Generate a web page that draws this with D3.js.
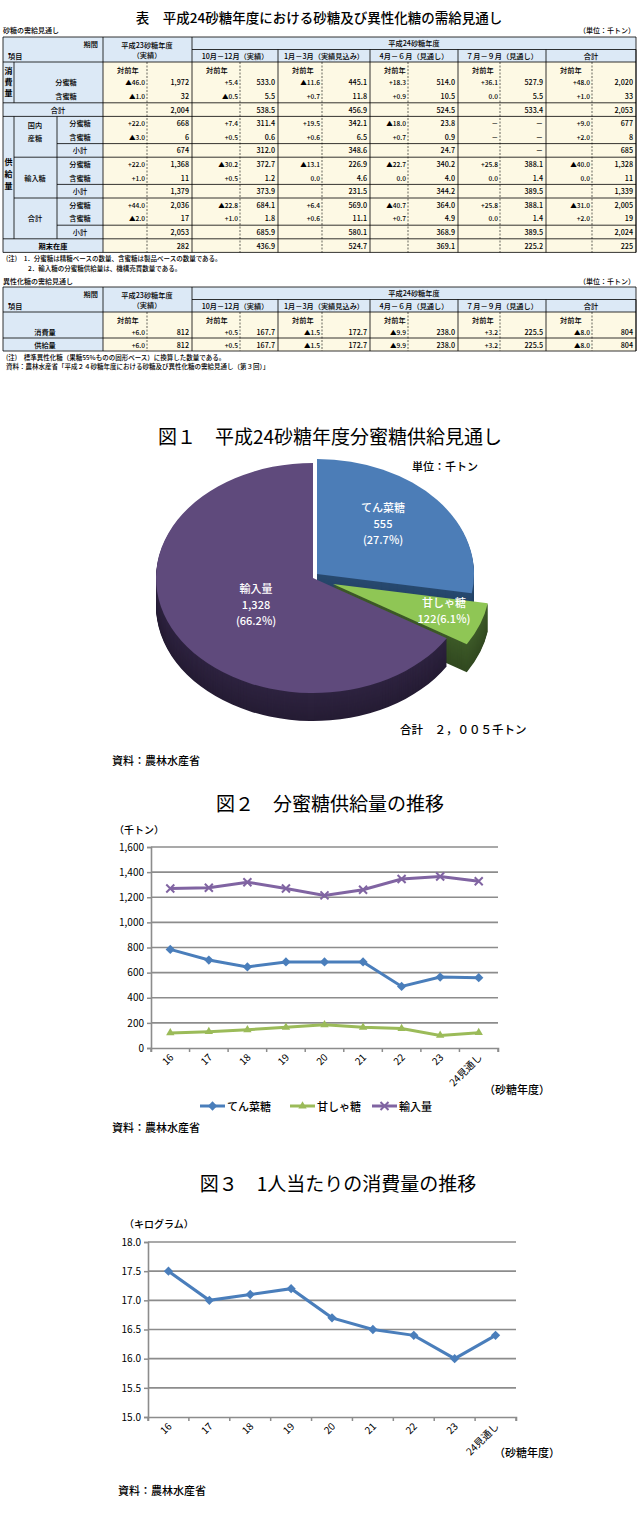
<!DOCTYPE html>
<html><head><meta charset="utf-8">
<script src="https://cdn.jsdelivr.net/npm/d3@7"></script>
<style>body{margin:0;background:#fff}svg{display:block}text{font-family:"Noto Sans CJK JP",sans-serif}</style>
</head><body><svg id="c" width="638" height="1518"></svg>
<script>
// ---------- DATA ----------
const periodsTop = ["10月－12月（実績）","1月－3月（実績見込み）","4月－６月（見通し）","７月－９月（見通し）","合計"];
const t1Rows = [
 ["対前年","","対前年","","対前年","","対前年","","対前年","","対前年",""],
 ["▲46.0","1,972","+5.4","533.0","▲11.6","445.1","+18.3","514.0","+36.1","527.9","+48.0","2,020"],
 ["▲1.0","32","▲0.5","5.5","+0.7","11.8","+0.9","10.5","0.0","5.5","+1.0","33"],
 ["","2,004","","538.5","","456.9","","524.5","","533.4","","2,053"],
 ["+22.0","668","+7.4","311.4","+19.5","342.1","▲18.0","23.8","－","－","+9.0","677"],
 ["▲3.0","6","+0.5","0.6","+0.6","6.5","+0.7","0.9","－","－","+2.0","8"],
 ["","674","","312.0","","348.6","","24.7","","－","","685"],
 ["+22.0","1,368","▲30.2","372.7","▲13.1","226.9","▲22.7","340.2","+25.8","388.1","▲40.0","1,328"],
 ["+1.0","11","+0.5","1.2","0.0","4.6","0.0","4.0","0.0","1.4","0.0","11"],
 ["","1,379","","373.9","","231.5","","344.2","","389.5","","1,339"],
 ["+44.0","2,036","▲22.8","684.1","+6.4","569.0","▲40.7","364.0","+25.8","388.1","▲31.0","2,005"],
 ["▲2.0","17","+1.0","1.8","+0.6","11.1","+0.7","4.9","0.0","1.4","+2.0","19"],
 ["","2,053","","685.9","","580.1","","368.9","","389.5","","2,024"],
 ["","282","","436.9","","524.7","","369.1","","225.2","","225"]
];
const t2Rows = [
 ["対前年","","対前年","","対前年","","対前年","","対前年","","対前年",""],
 ["+6.0","812","+0.5","167.7","▲1.5","172.7","▲9.9","238.0","+3.2","225.5","▲8.0","804"],
 ["+6.0","812","+0.5","167.7","▲1.5","172.7","▲9.9","238.0","+3.2","225.5","▲8.0","804"]
];
const pieNames = ["てん菜糖","甘しゃ糖","輸入量"];
const pieValues = [555,122,1328];
const piePct = ["27.7%","6.1%","66.2%"];
const years = ["16","17","18","19","20","21","22","23","24見通し"];
const beet = [785,700,645,685,685,685,490,565,560];
const cane = [120,130,145,165,185,165,155,100,122];
const imported = [1270,1275,1320,1270,1215,1260,1345,1365,1328];
const perCapita = [17.5,17.0,17.1,17.2,16.7,16.5,16.4,16.0,16.4];
const ticks2 = [0,200,400,600,800,1000,1200,1400,1600];
const ticks3 = [15.0,15.5,16.0,16.5,17.0,17.5,18.0];

// ---------- TABLES ----------
const svg = d3.select("#c");
const FS=7.2, BLUE="#dce9f6", CREAM="#fdf9e4";
const colB=[103,192,278,370,458,546,636];
const dash=[147,240,322,408,500,592];
function txt(g,x,y,s,anchor="middle",size=FS,w="500"){
  return g.append("text").attr("x",x).attr("y",y).attr("font-size",size).attr("text-anchor",anchor)
   .attr("dominant-baseline","central").attr("font-weight",w).text(s);}
function line(g,x1,y1,x2,y2,d){g.append("line").attr("x1",x1).attr("y1",y1).attr("x2",x2).attr("y2",y2)
  .attr("stroke","#000").attr("stroke-width",d?0.6:0.8).attr("stroke-dasharray",d?"2,1.5":null);}
function header(g,top,h){
  g.append("rect").attr("x",3).attr("y",top).attr("width",633).attr("height",2*h).attr("fill",BLUE);
  txt(g,98,top+h/2+1,"期間","end");txt(g,8,top+h*1.5,"項目","start");
  txt(g,147,top+h/2+2,"平成23砂糖年度");txt(g,147,top+h*1.5-1,"（実績）");
  txt(g,414,top+h/2,"平成24砂糖年度");
  periodsTop.forEach((p,i)=>txt(g,(colB[i+1]+colB[i+2])/2,top+h*1.5,p));
  line(g,3,top,636,top);line(g,192,top+h,636,top+h);
  colB.forEach((x,i)=>line(g,x,i>1?top+h:top,x,top+2*h));
  line(g,3,top,3,top+2*h);line(g,636,top,636,top+2*h);
}
function cells(g,rows,top,pitch){
  rows.forEach((r,ri)=>{
    const cy=top+pitch*(ri+0.5);
    r.forEach((v,ci)=>{
      const gi=Math.floor(ci/2), yoy=ci%2===0;
      if(yoy && ri===0 && v){txt(g,colB[gi]+14,cy+1,v,"start",FS);return;}
      const x= yoy? dash[gi]-2 : colB[gi+1]-3;
      txt(g,x,cy,v,"end",yoy?6.6:FS);
    });
  });
}
// Table 1
const g1=svg.append("g");
txt(g1,319,17,"表　平成24砂糖年度における砂糖及び異性化糖の需給見通し","middle",13.5);
txt(g1,3,30,"砂糖の需給見通し","start",7);
txt(g1,635,30,"（単位：千トン）","end",7);
const T=62,P=13.6;
g1.append("rect").attr("x",3).attr("y",T).attr("width",100).attr("height",P*14).attr("fill",BLUE);
g1.append("rect").attr("x",103).attr("y",T).attr("width",533).attr("height",P*14).attr("fill",CREAM);
header(g1,37,12.5);
cells(g1,t1Rows,T,P);
const ry=i=>T+P*i, rc=i=>T+P*(i+0.5);
["消","費","量"].forEach((c,i)=>txt(g1,8.5,ry(0)+8+i*11,c,"middle",8,"bold"));
txt(g1,66,rc(1),"分蜜糖");txt(g1,66,rc(2),"含蜜糖");txt(g1,58,rc(3),"合計");
["供","給","量"].forEach((c,i)=>txt(g1,8.5,ry(7)+4+i*12,c,"middle",8,"bold"));
txt(g1,35,rc(4)+2,"国内");txt(g1,35,rc(5)+1,"産糖");txt(g1,35,rc(8),"輸入糖");txt(g1,35,rc(11),"合計");
[4,7,10].forEach(s=>{txt(g1,80,rc(s),"分蜜糖");txt(g1,80,rc(s+1),"含蜜糖");txt(g1,80,rc(s+2),"小計");});
txt(g1,53,rc(13),"期末在庫","middle",FS,"bold");
[0,3,4,13,14].forEach(i=>line(g1,3,ry(i),636,ry(i)));
[7,10].forEach(i=>line(g1,14,ry(i),636,ry(i)));
[6,9,12].forEach(i=>line(g1,57,ry(i),636,ry(i)));
line(g1,3,T,3,ry(14));line(g1,636,T,636,ry(14));
line(g1,14,ry(0),14,ry(3));line(g1,14,ry(4),14,ry(13));
line(g1,57,ry(4),57,ry(13));
colB.forEach(x=>line(g1,x,T,x,ry(14)));
dash.forEach(x=>line(g1,x,T,x,ry(14),true));
txt(g1,6,258,"(注)　1．分蜜糖は精糖ベースの数量、含蜜糖は製品ベースの数量である。","start",6.5);
txt(g1,28,268,"2．輸入糖の分蜜糖供給量は、機構売買数量である。","start",6.5);

// Table 2
const g2=svg.append("g");
txt(g2,3,281,"異性化糖の需給見通し","start",7);
txt(g2,635,281,"（単位：千トン）","end",7);
const T2=312,P2=13;
g2.append("rect").attr("x",3).attr("y",T2).attr("width",100).attr("height",P2*3).attr("fill",BLUE);
g2.append("rect").attr("x",103).attr("y",T2).attr("width",533).attr("height",P2*3).attr("fill",CREAM);
header(g2,287,12.5);
cells(g2,t2Rows,T2,P2);
txt(g2,45,T2+P2*1.5,"消費量");txt(g2,45,T2+P2*2.5,"供給量");
[0,2,3].forEach(i=>line(g2,3,T2+P2*i,636,T2+P2*i));
line(g2,3,T2,3,T2+P2*3);line(g2,636,T2,636,T2+P2*3);
colB.forEach(x=>line(g2,x,T2,x,T2+P2*3));
dash.forEach(x=>line(g2,x,T2,x,T2+P2*3,true));
txt(g2,6,357,"(注)　標準異性化糖（果糖55%ものの固形ベース）に換算した数量である。","start",6.5);
txt(g2,6,366,"資料：農林水産省「平成２４砂糖年度における砂糖及び異性化糖の需給見通し（第３回）」","start",6.5);

// ---------- PIE ----------
const gp=svg.append("g");
txt(gp,330,435,"図１　平成24砂糖年度分蜜糖供給見通し","middle",19,"normal");
txt(gp,412,466,"単位：千トン","start",11);
txt(gp,400,729,"合計　２，００５千トン","start",11.5);
txt(gp,112,760,"資料：農林水産省","start",11);
const R=157, sy=115/157, depth=28, cx=313, cy=578;
const cols=["#4c7db7","#8fc655","#5f4a7c"], sides=["#284a70","#3d5a28","#2e2340"];
const offs=[[4,-4],[20,6],[0,0]];
const arcs=d3.pie().sort(null).startAngle(0)(pieValues);
const arcG=d3.arc().innerRadius(0).outerRadius(R);
for(let d=depth; d>0; d--){
  [2,1,0].forEach(i=>{
    gp.append("path").attr("d",arcG(arcs[i]))
      .attr("transform",`translate(${cx+offs[i][0]},${cy+offs[i][1]+d}) scale(1,${sy})`)
      .attr("fill",d3.interpolateRgb(sides[i],d3.color(sides[i]).darker(0.6))(d/depth));
  });
}
[2,0,1].forEach(i=>{
  gp.append("path").attr("d",arcG(arcs[i]))
    .attr("transform",`translate(${cx+offs[i][0]},${cy+offs[i][1]}) scale(1,${sy})`)
    .attr("fill",cols[i]);
});
const labs=[[[383,507],[pieNames[0],String(pieValues[0]),"("+piePct[0]+")"]],
  [[444,602],[pieNames[1],pieValues[1]+"("+piePct[1]+")"]],
  [[256,588],[pieNames[2],d3.format(",")(pieValues[2]),"("+piePct[2]+")"]]];
labs.forEach(([p,ls])=>ls.forEach((s,k)=>txt(gp,p[0],p[1]+k*16,s,"middle",11).attr("fill","#fff")));

// ---------- LINE CHARTS ----------
function lineChart(o){
  const g=svg.append("g");
  const x=d3.scaleBand().domain(years).range([o.x0,o.x1]);
  const y=d3.scaleLinear().domain(o.dom).range([o.y0,o.y1]);
  o.ticks.forEach(t=>{ if(t!==o.dom[0]) g.append("line").attr("x1",o.x0).attr("x2",o.x1).attr("y1",y(t)).attr("y2",y(t)).attr("stroke","#8c8c8c").attr("stroke-width",1.6);});
  const ya=g.append("g").attr("transform",`translate(${o.x0},0)`).call(d3.axisLeft(y).tickValues(o.ticks).tickFormat(o.fmt).tickSize(4));
  const xa=g.append("g").attr("transform",`translate(0,${o.y0})`).call(d3.axisBottom(x).tickSize(4).tickFormat(""));
  xa.selectAll("line").attr("transform",`translate(${-x.bandwidth()/2},0)`);
  xa.append("line").attr("x1",o.x1).attr("x2",o.x1).attr("y1",0).attr("y2",4).attr("stroke","#8c8c8c");
  [ya,xa].forEach(a=>{a.selectAll("path,line").attr("stroke","#8c8c8c").attr("stroke-width",1.5);a.select(".domain").attr("stroke-width",1.6);});
  ya.selectAll("text").attr("font-size",10).attr("fill","#000").attr("font-family","Open Sans");
  years.forEach(v=>g.append("text").attr("font-size",10).attr("text-anchor","end").attr("font-family","Open Sans, Noto Sans CJK JP")
     .attr("transform",`translate(${x(v)+x.bandwidth()/2+4},${o.y0+10}) rotate(-45)`).text(v));
  o.series.forEach(s=>{
    const pts=s.v.map((v,i)=>[x(years[i])+x.bandwidth()/2,y(v)]);
    g.append("path").attr("d",d3.line()(pts)).attr("fill","none").attr("stroke",s.c).attr("stroke-width",3);
    pts.forEach(p=>marker(g,s.m,p[0],p[1],s.c));
  });
  return g;
}
function marker(g,m,x,y,c){
  if(m==="x"){g.append("path").attr("d",`M${x-4},${y-4}L${x+4},${y+4}M${x-4},${y+4}L${x+4},${y-4}`).attr("stroke",c).attr("stroke-width",2);}
  else g.append("path").attr("d",d3.symbol().type(m==="d"?d3.symbolDiamond2:d3.symbolTriangle2).size(m==="d"?55:50)()).attr("transform",`translate(${x},${y})`).attr("fill",c);
}
txt(svg,330,802,"図２　分蜜糖供給量の推移","middle",19,"normal");
txt(svg,114,829,"（千トン）","start",10);
lineChart({x0:151,x1:498,y0:1048,y1:847,dom:[0,1600],ticks:ticks2,fmt:d3.format(","),
  series:[{v:beet,c:"#4a7ebb",m:"d"},{v:cane,c:"#9bbb59",m:"t"},{v:imported,c:"#8064a2",m:"x"}]});
txt(svg,484,1089,"（砂糖年度）","start",11);
[["てん菜糖","#4a7ebb","d",200],["甘しゃ糖","#9bbb59","t",290],["輸入量","#8064a2","x",372]].forEach(([n,c,m,x0])=>{
  svg.append("line").attr("x1",x0).attr("x2",x0+25).attr("y1",1106).attr("y2",1106).attr("stroke",c).attr("stroke-width",3);
  marker(svg,m,x0+12.5,1106,c); txt(svg,x0+27,1106,n,"start",11);
});
txt(svg,112,1127,"資料：農林水産省","start",11);
txt(svg,338,1182,"図３　1人当たりの消費量の推移","middle",19,"normal");
txt(svg,124,1223,"（キログラム）","start",10);
lineChart({x0:148,x1:516,y0:1417,y1:1242,dom:[15,18],ticks:ticks3,fmt:d3.format(".1f"),
  series:[{v:perCapita,c:"#4a7ebb",m:"d"}]});
txt(svg,494,1452,"（砂糖年度）","start",11);
txt(svg,118,1490,"資料：農林水産省","start",11);
</script></body></html>
